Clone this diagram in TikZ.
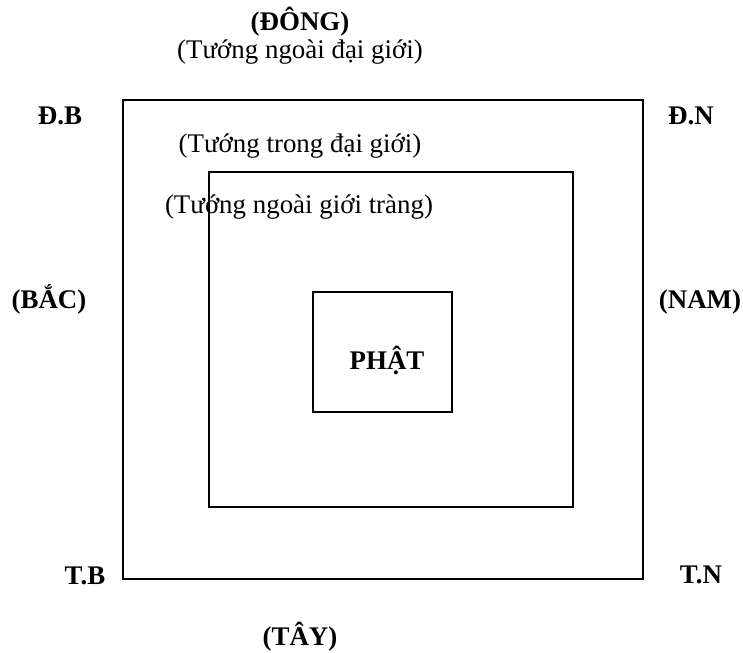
\documentclass[tikz,border=0pt]{standalone}
\usepackage{fontspec}
\setmainfont{Liberation Serif}
\tikzset{lbl/.style={inner sep=0pt,anchor=base,font=\fontsize{12}{14}\selectfont},
  hd/.style={lbl,font=\fontsize{12}{14}\selectfont\bfseries}}
\begin{document}
\begin{tikzpicture}[x=0.446pt,y=-0.446pt,line width=0.8pt]
\useasboundingbox (0,0) rectangle (743,652);
\draw (123,100)--(643,100)--(643,579)--(123,579)--cycle;
\draw (209,172)--(573,172)--(573,507)--(209,507)--cycle;
\draw (313,292)--(452,292)--(452,412)--(313,412)--cycle;
\node[hd] (dong) at (300,30) {(ĐÔNG)};
\node[lbl] (ngoaidai) at (300,58) {(Tướng ngoài đại giới)};
\node[hd] (db) at (60,124) {Đ.B};
\node[hd] (dn) at (691,124) {Đ.N};
\node[lbl] (trongdai) at (300,152) {(Tướng trong đại giới)};
\node[lbl] (ngoaitrang) at (299,213) {(Tướng ngoài giới tràng)};
\node[hd] (bac) at (49,308) {(BẮC)};
\node[hd] (nam) at (700,308) {(NAM)};
\node[hd] (phat) at (387,369) {PHẬT};
\node[hd] (tb) at (85,584) {T.B};
\node[hd] (tn) at (701,583) {T.N};
\node[hd] (tay) at (300,645) {(TÂY)};
\end{tikzpicture}
\end{document}
